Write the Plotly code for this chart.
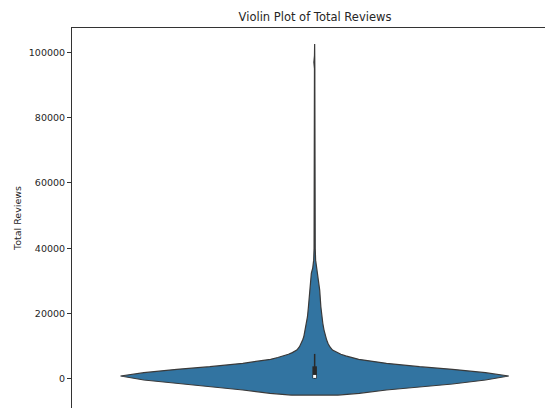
import plotly.graph_objects as go

# ---- data ----
# violin outline: review count vs. relative density (1.0 = widest point)
REVIEW_VALUES = [-5000, -4470, -3460, -2450, -1620, -400, 830, 1840, 2880, 3680,
                 4720, 5940, 6500, 7000, 7500, 8000, 8800, 9800, 10800, 11850,
                 12860, 15000, 17000, 19000, 22050, 27170, 32370, 33900, 36350,
                 40000, 50000, 60000, 64000, 66000, 68000, 75000, 90000, 95000,
                 97000, 99000, 102600]
REL_DENSITY = [0.12, 0.23, 0.37, 0.54, 0.71, 0.88, 1.00, 0.88, 0.71, 0.54,
               0.37, 0.227, 0.19, 0.16, 0.135, 0.115, 0.092, 0.078, 0.069, 0.062,
               0.056, 0.048, 0.042, 0.037, 0.032, 0.026, 0.017, 0.010, 0.005,
               0.003, 0.002, 0.001, 0.001, 0.004, 0.001, 0.001, 0.001, 0.001,
               0.004, 0.001, 0.0]

# inner box statistics
WHISKER_LOW = 0
Q1 = 100
MEDIAN = 700
Q3 = 3800
WHISKER_HIGH = 7600

TICK_VALUES = [0, 20000, 40000, 60000, 80000, 100000]
TICK_LABELS = ["0", "20000", "40000", "60000", "80000", "100000"]

TITLE = "Violin Plot of Total Reviews"
Y_LABEL = "Total Reviews"

# ---- styling ----
HALF_WIDTH = 0.4          # seaborn width 0.8 -> 0.4 each side
FILL = "#3274a1"
EDGE = "#3a3a3a"
FONT = "DejaVu Sans"
TEXT = "#262626"

W, H = 545, 408
ML = 72
MT = 28
plot_w = W - ML
x_range = [-0.5, -0.5 + plot_w / 485.3]

xs = [-HALF_WIDTH * d for d in REL_DENSITY] + [HALF_WIDTH * d for d in REL_DENSITY[::-1]]
ys = REVIEW_VALUES + REVIEW_VALUES[::-1]
xs.append(xs[0])
ys.append(ys[0])

fig = go.Figure()
fig.add_trace(go.Scatter(
    x=xs, y=ys, mode="lines", fill="toself", fillcolor=FILL,
    line=dict(color=EDGE, width=1.2), hoverinfo="skip", showlegend=False))

# whisker
fig.add_trace(go.Scatter(
    x=[0, 0], y=[WHISKER_LOW, WHISKER_HIGH], mode="lines",
    line=dict(color="#2a2a2a", width=1.5), hoverinfo="skip", showlegend=False))
# box
fig.add_trace(go.Scatter(
    x=[0, 0], y=[Q1, Q3], mode="lines",
    line=dict(color="#2a2a2a", width=4.5), hoverinfo="skip", showlegend=False))
# median
fig.add_trace(go.Scatter(
    x=[0], y=[MEDIAN], mode="markers",
    marker=dict(color="white", size=3, symbol="square", line=dict(width=0)),
    hoverinfo="skip", showlegend=False))

fig.update_layout(
    template="none",
    width=W, height=H,
    margin=dict(l=ML, r=0, t=MT, b=0, autoexpand=False),
    paper_bgcolor="white", plot_bgcolor="white",
    font=dict(family=FONT, color=TEXT, size=9.5),
    title=dict(text=TITLE, x=(315 - ML) / plot_w, xref="paper", xanchor="center",
               y=1 - 17 / H, yref="container", yanchor="middle",
               font=dict(family=FONT, size=11.5, color=TEXT)),
    xaxis=dict(range=x_range, side="top", showline=True, linecolor="#333333",
               linewidth=1, showticklabels=False, ticks="", showgrid=False,
               zeroline=False, fixedrange=True, automargin=False),
    yaxis=dict(range=[-8975, 107500], showline=True, linecolor="#333333",
               linewidth=1, ticks="outside", ticklen=4, tickwidth=1,
               tickcolor="#333333", tickvals=TICK_VALUES, ticktext=TICK_LABELS,
               tickfont=dict(family=FONT, size=9.5, color=TEXT),
               showgrid=False, zeroline=False, automargin=False,
               title=dict(text=Y_LABEL, font=dict(family=FONT, size=9.5, color=TEXT),
                          standoff=5)),
)

fig.write_html(
    "out.html",
    config={"displayModeBar": False},
    post_script="document.body.style.margin='0';document.body.style.overflow='hidden';",
)
